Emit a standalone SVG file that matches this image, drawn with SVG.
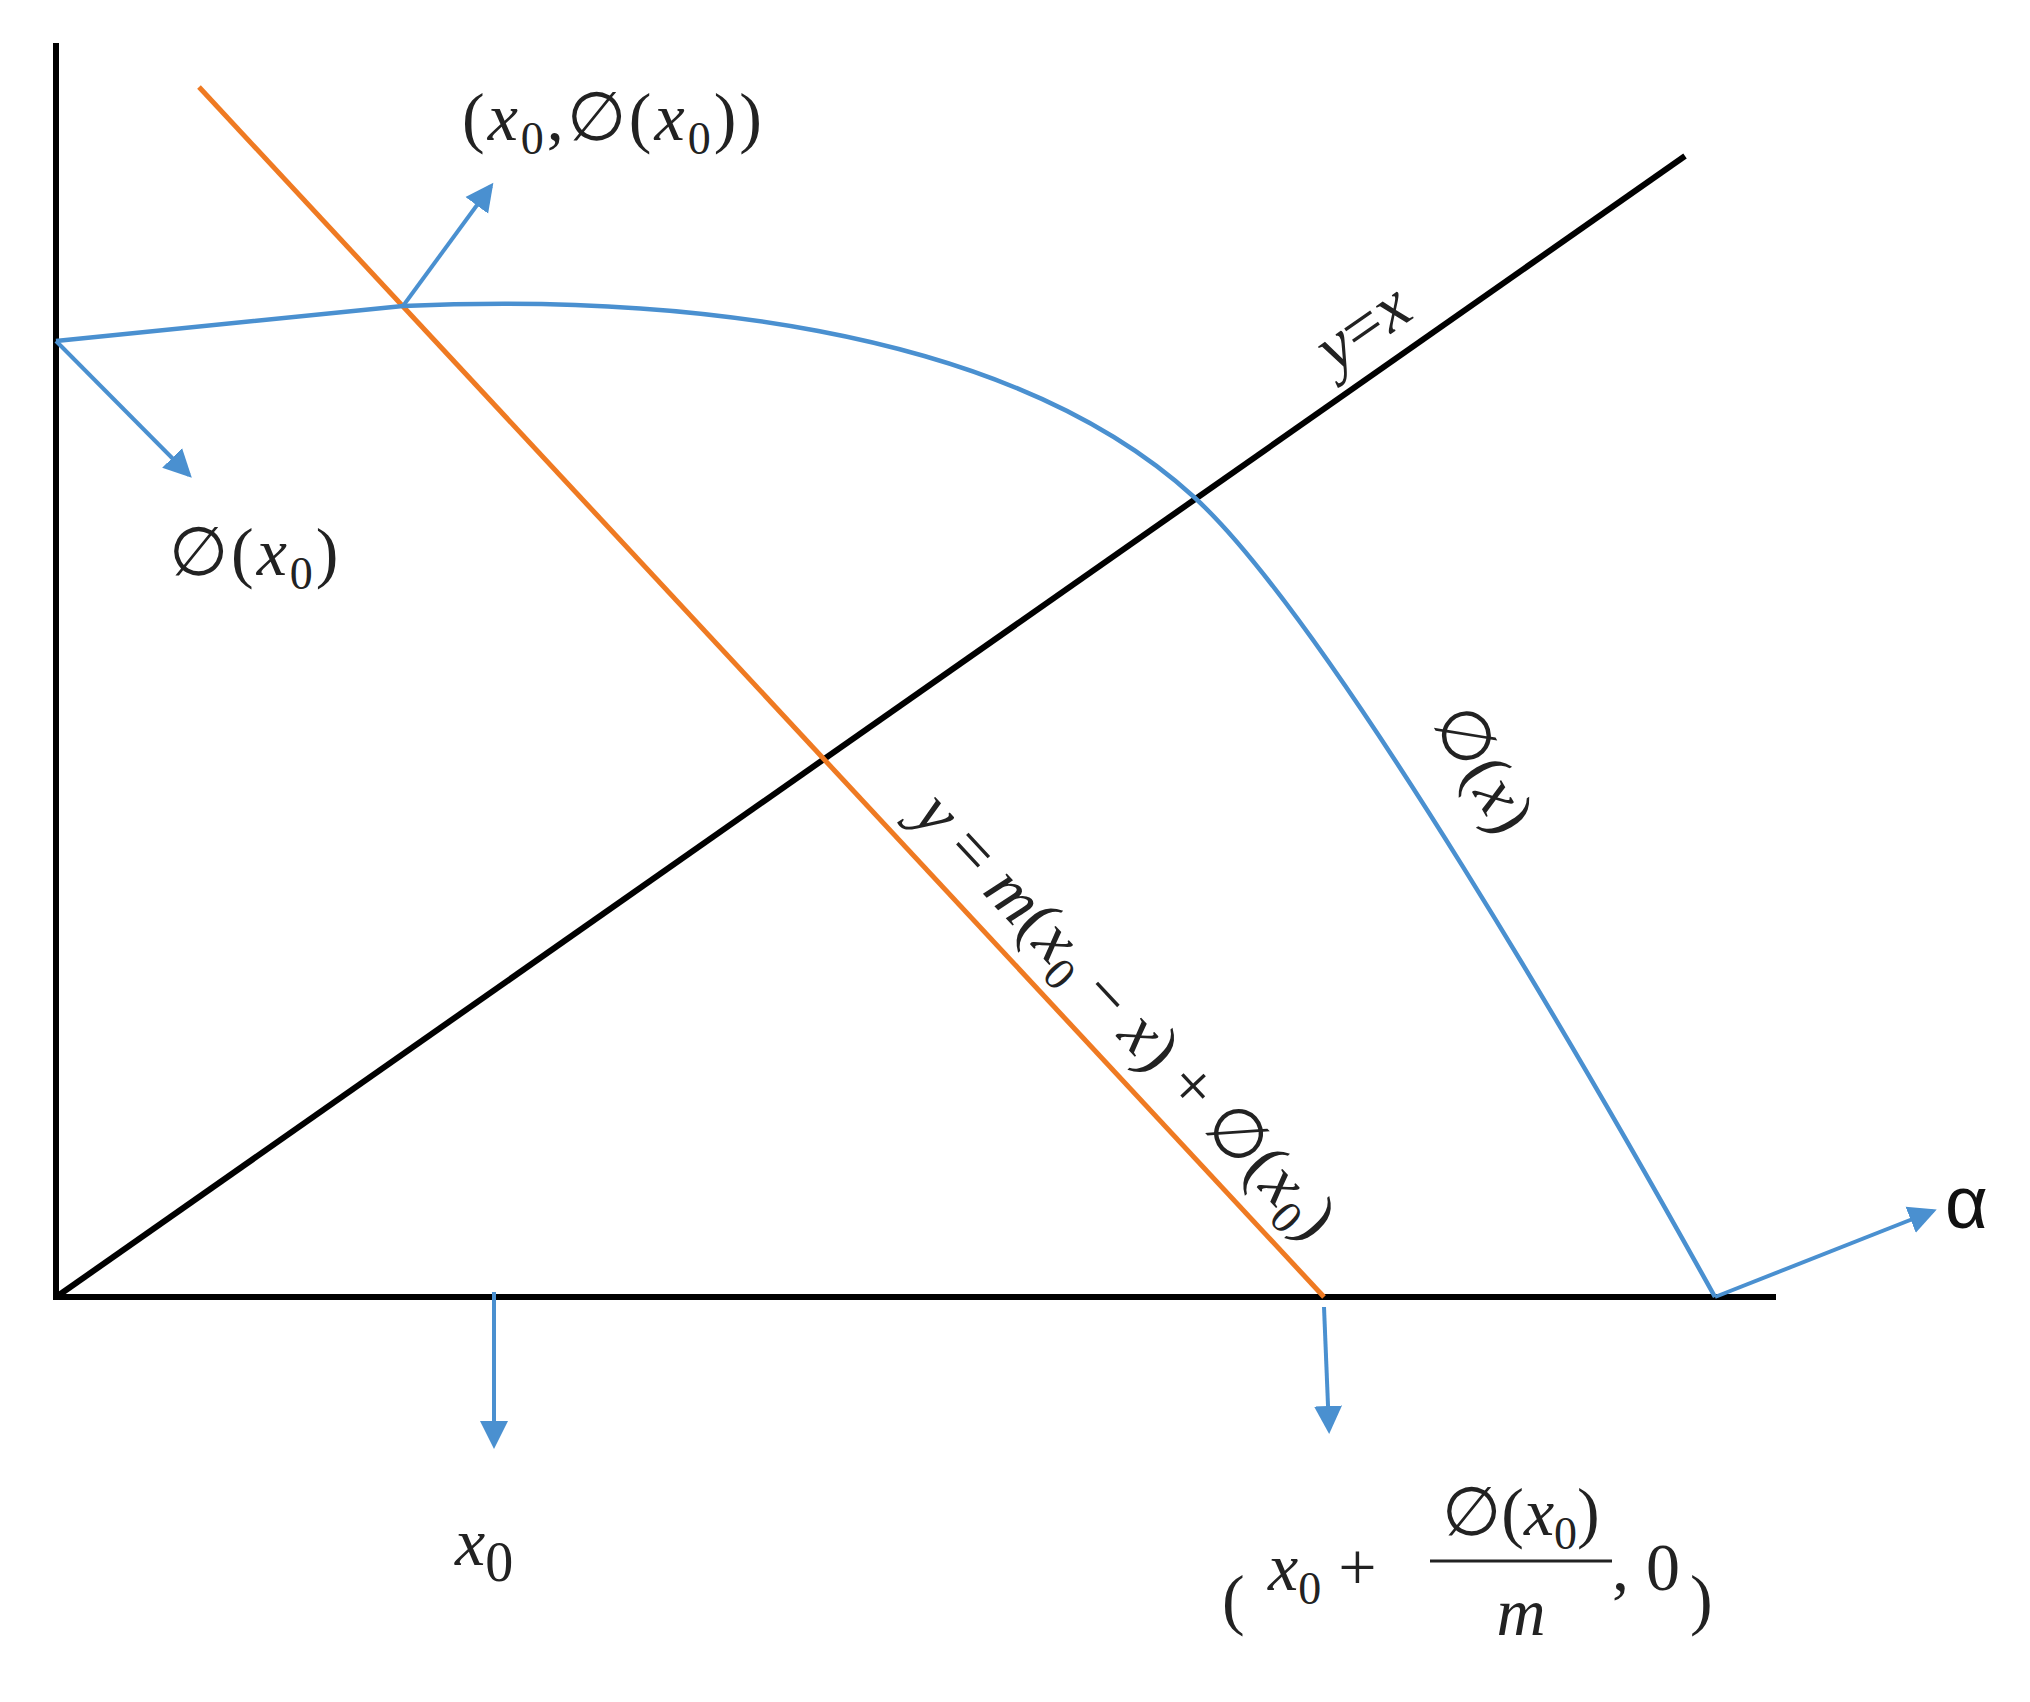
<svg xmlns="http://www.w3.org/2000/svg" width="2030" height="1702" viewBox="0 0 2030 1702">
<defs>
<marker id="ah" markerWidth="8" markerHeight="8" refX="6" refY="4" orient="auto" markerUnits="strokeWidth"><path d="M0,0.5 L7,4 L0,7.5 Z" fill="#4a90d0"/></marker>
<style>
.ax{stroke:#000;stroke-width:6;fill:none}
.bl{stroke:#4a90d0;stroke-width:4.5;fill:none}
.ar{stroke:#4a90d0;stroke-width:4;fill:none;marker-end:url(#ah)}
.t{font-family:"Liberation Serif",serif;font-size:68px;fill:#222}
.i{font-style:italic}
.s{font-size:46px}
</style>
</defs>
<rect width="2030" height="1702" fill="#fff"/>
<g id="connectors">
<path class="ax" d="M56,43 V1297 H1776"/>
<path class="ax" d="M59,1295 L1685,156"/>
<path d="M199,87 L1324,1297" stroke="#ef7a22" stroke-width="5" fill="none"/>
<path class="bl" d="M56,341 L403,306 C650,295 1000,320 1194,497 C1330,621 1600,1090 1715,1297"/>
<path class="ar" d="M403,306 L491,186"/>
<path class="ar" d="M56,341 L189,475"/>
<path class="ar" d="M494,1292 L494,1445"/>
<path class="ar" d="M1324,1307 L1329,1430"/>
<path class="ar" d="M1715,1297 L1933,1211"/>
</g>
<g id="labels">
<text class="t" x="462" y="140" letter-spacing="3">(<tspan class="i">x</tspan><tspan class="s" dy="14">0</tspan><tspan dy="-14">,∅(</tspan><tspan class="i">x</tspan><tspan class="s" dy="14">0</tspan><tspan dy="-14">))</tspan></text>
<text class="t" x="169" y="575" letter-spacing="3">∅(<tspan class="i">x</tspan><tspan class="s" dy="14">0</tspan><tspan dy="-14">)</tspan></text>
<text class="t" font-size="76" transform="translate(1375,345) rotate(-35)" text-anchor="middle"><tspan class="i">y</tspan>=<tspan class="i">x</tspan></text>
<text class="t" font-size="88" transform="translate(1465,780) rotate(60)" text-anchor="middle">∅(<tspan class="i">x</tspan>)</text>
<text class="t" font-size="74" transform="translate(1110,1030) rotate(47)" text-anchor="middle"><tspan class="i">y</tspan> = <tspan class="i">m</tspan>(<tspan class="i">x</tspan><tspan class="s" dy="14" font-size="50">0</tspan><tspan dy="-14"> − </tspan><tspan class="i">x</tspan>) + ∅(<tspan class="i">x</tspan><tspan class="s" dy="14" font-size="50">0</tspan><tspan dy="-14">)</tspan></text>
<text x="1945" y="1228" font-family="Liberation Sans,sans-serif" font-size="74" fill="#111">α</text>
<text class="t" x="455" y="1565" font-size="80"><tspan class="i">x</tspan><tspan dy="16" font-size="56">0</tspan></text>
<text class="t" x="1222" y="1622" font-size="210">(</text>
<text class="t" x="1268" y="1590"><tspan class="i">x</tspan><tspan class="s" dy="14">0</tspan><tspan dy="-14"> + </tspan></text>
<text class="t" x="1521" y="1535" text-anchor="middle">∅(<tspan class="i">x</tspan><tspan class="s" dy="14">0</tspan><tspan dy="-14">)</tspan></text>
<line x1="1430" y1="1561" x2="1612" y2="1561" stroke="#222" stroke-width="3"/>
<text class="t i" x="1521" y="1635" text-anchor="middle">m</text>
<text class="t" x="1612" y="1590">, 0</text>
<text class="t" x="1690" y="1622" font-size="210">)</text>
</g>
</svg>
